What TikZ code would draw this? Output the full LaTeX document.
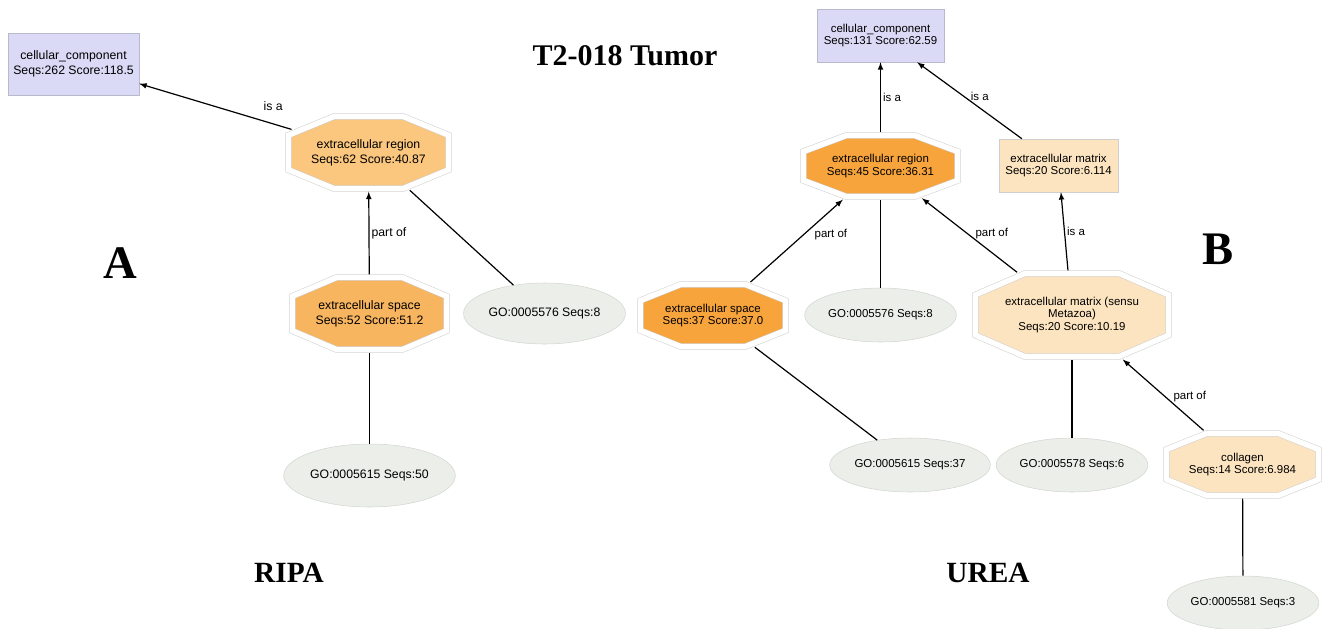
\documentclass[tikz,border=0pt]{standalone}
\usepackage{fontspec}
\setmainfont{Liberation Serif}
\setsansfont{Liberation Sans}
\usetikzlibrary{positioning, shapes.geometric, arrows}

\definecolor{ccblue}{HTML}{DADAF6}
\definecolor{ccline}{HTML}{B9B9CC}
\definecolor{orangeA}{HTML}{FBC67D}
\definecolor{orangeB}{HTML}{F8B55F}
\definecolor{orangeC}{HTML}{F8A43C}
\definecolor{peach}{HTML}{FCE4C0}
\definecolor{gofill}{HTML}{ECEFE9}
\definecolor{goline}{HTML}{D3D6D0}
\definecolor{octline}{HTML}{CFCFCF}

% stretched octagon for the GO term nodes
\makeatletter
\pgfkeys{/pgf/octagon xcut/.initial=10pt, /pgf/octagon ycut/.initial=5pt}
\pgfdeclareshape{gooctagon}{
  \inheritsavedanchors[from=rectangle]
  \inheritanchor[from=rectangle]{center}
  \inheritanchor[from=rectangle]{text}
  \inheritanchor[from=rectangle]{base}
  \inheritanchor[from=rectangle]{mid}
  \inheritanchor[from=rectangle]{north}
  \inheritanchor[from=rectangle]{south}
  \inheritanchor[from=rectangle]{east}
  \inheritanchor[from=rectangle]{west}
  \saveddimen\octxcut{\pgfmathsetlength\pgf@x{\pgfkeysvalueof{/pgf/octagon xcut}}}
  \saveddimen\octycut{\pgfmathsetlength\pgf@x{\pgfkeysvalueof{/pgf/octagon ycut}}}
  \backgroundpath{%
    \pgfmathsetlength\pgf@xc{\pgfkeysvalueof{/pgf/outer xsep}}%
    \pgfmathsetlength\pgf@yc{\pgfkeysvalueof{/pgf/outer ysep}}%
    \southwest \edef\octL{\the\dimexpr\pgf@x+\pgf@xc\relax}\edef\octB{\the\dimexpr\pgf@y+\pgf@yc\relax}%
    \northeast \edef\octR{\the\dimexpr\pgf@x-\pgf@xc\relax}\edef\octT{\the\dimexpr\pgf@y-\pgf@yc\relax}%
    \pgfpathmoveto{\pgfqpoint{\octR}{\dimexpr\octT-\octycut\relax}}%
    \pgfpathlineto{\pgfqpoint{\dimexpr\octR-\octxcut\relax}{\octT}}%
    \pgfpathlineto{\pgfqpoint{\dimexpr\octL+\octxcut\relax}{\octT}}%
    \pgfpathlineto{\pgfqpoint{\octL}{\dimexpr\octT-\octycut\relax}}%
    \pgfpathlineto{\pgfqpoint{\octL}{\dimexpr\octB+\octycut\relax}}%
    \pgfpathlineto{\pgfqpoint{\dimexpr\octL+\octxcut\relax}{\octB}}%
    \pgfpathlineto{\pgfqpoint{\dimexpr\octR-\octxcut\relax}{\octB}}%
    \pgfpathlineto{\pgfqpoint{\octR}{\dimexpr\octB+\octycut\relax}}%
    \pgfpathclose
  }
  \anchorborder{%
    \edef\octX{\the\pgf@x}\edef\octY{\the\pgf@y}%
    \southwest \edef\octL{\the\pgf@x}\edef\octB{\the\pgf@y}%
    \northeast \edef\octR{\the\pgf@x}\edef\octT{\the\pgf@y}%
    \pgfmathsetmacro\octlen{max(veclen(\octX,\octY),0.001)}%
    \pgfmathsetmacro\octux{abs(\octX)/\octlen}%
    \pgfmathsetmacro\octuy{abs(\octY)/\octlen}%
    \pgfmathsetmacro\octa{(\octR-\octL)/2}%
    \pgfmathsetmacro\octb{(\octT-\octB)/2}%
    \pgfmathsetmacro\octxc{\octxcut}%
    \pgfmathsetmacro\octyc{\octycut}%
    \pgfmathsetmacro\octc{\octa*\octyc+\octb*\octxc-\octxc*\octyc}%
    \pgfmathsetmacro\octt{min(\octa/max(\octux,0.01), \octb/max(\octuy,0.01), \octc/(\octux*\octyc+\octuy*\octxc))}%
    \pgfmathsetmacro\octrx{(\octL+\octR)/2+\octt*(\octX)/\octlen}%
    \pgfmathsetmacro\octry{(\octB+\octT)/2+\octt*(\octY)/\octlen}%
    \pgf@x=\octrx pt\relax
    \pgf@y=\octry pt\relax
  }
}
\makeatother

\begin{document}
\begin{tikzpicture}[
    x=0.75pt, y=-0.75pt,
    fontA/.style={font=\sffamily\fontsize{9.2}{11.2}\selectfont},
    fontB/.style={font=\sffamily\fontsize{8.6}{9.6}\selectfont},
    box/.style={draw=ccline, fill=ccblue, align=center, inner sep=2pt},
    mbox/.style={box, draw=octline, fill=peach},
    oct/.style={gooctagon, draw=octline, double=white, double distance=4pt, outer sep=2.4pt, align=center, inner sep=2pt},
    cut/.style 2 args={octagon xcut=#1, octagon ycut=#2},
    go/.style={ellipse, draw=goline, fill=gofill, inner sep=1pt},
    arr/.style={->, >=latex, line width=0.9pt},
    golink/.style={line width=0.9pt},
    lbl/.style={inner sep=1.5pt},
    panel/.style={font=\bfseries\fontsize{35}{40}\selectfont},
    extract/.style={font=\bfseries\fontsize{22}{26}\selectfont}
]
\useasboundingbox (0,0) rectangle (1323,628);

% Titles
\node[font=\bfseries\fontsize{22.5}{27}\selectfont] (title) at (625,56) {T2-018 Tumor};
\node[panel] (panelA) at (120,263) {A};
\node[panel] (panelB) at (1218,249) {B};
\node[extract] (ripa) at (289,573) {RIPA};
\node[extract] (urea) at (988,573) {UREA};

% RIPA graph
\node[box, fontA, minimum width=98.25pt, minimum height=46.5pt] (ccA) at (73.5,64) {cellular\_component\\Seqs:262 Score:118.5};
\node[oct, fontA, fill=orangeA, minimum width=120pt, minimum height=54pt, cut={34pt}{14pt}] (erA) at (368.5,152.5) {extracellular region\\Seqs:62 Score:40.87};
\node[oct, fontA, fill=orangeB, minimum width=115.5pt, minimum height=54pt, cut={33pt}{14pt}] (esA) at (369.5,313.5) {extracellular space\\Seqs:52 Score:51.2};
\node[go, fontA, minimum width=101pt, minimum height=45.75pt] (goA5576) at (544.5,313.5) {GO:0005576 Seqs:8};
\node[go, fontA, minimum width=105.75pt, minimum height=47.25pt] (goA5615) at (369.5,475.5) {GO:0005615 Seqs:50};

\draw[arr] (erA) -- node[lbl, fontA, pos=0.12, above=8pt] {is a} (ccA);
\draw[arr] (esA) -- node[lbl, fontA, right] {part of} (erA);
\draw[golink] (goA5576) -- (erA);
\draw[golink] (goA5615) -- (esA);

% UREA graph
\node[box, fontB, minimum width=95.25pt, minimum height=39.75pt] (ccB) at (880.5,35.5) {cellular\_component\\Seqs:131 Score:62.59};
\node[oct, fontB, fill=orangeC, minimum width=115.5pt, minimum height=45.75pt, cut={32pt}{12pt}] (erB) at (880.5,166) {extracellular region\\Seqs:45 Score:36.31};
\node[mbox, fontB, minimum width=89.25pt, minimum height=39.75pt] (emB) at (1058.5,165.5) {extracellular matrix\\Seqs:20 Score:6.114};
\node[oct, fontB, fill=orangeC, minimum width=108.75pt, minimum height=46.5pt, cut={30pt}{12pt}] (esB) at (713,315.5) {extracellular space\\Seqs:37 Score:37.0};
\node[go, fontB, minimum width=98.25pt, minimum height=40.5pt] (goB5576) at (880.5,315) {GO:0005576 Seqs:8};
\node[oct, fontB, fill=peach, minimum width=144.75pt, minimum height=62.25pt, cut={37pt}{16pt}] (emsB) at (1072,315) {extracellular matrix (sensu\\Metazoa)\\Seqs:20 Score:10.19};
\node[go, fontB, minimum width=100.5pt, minimum height=40.5pt] (goB5615) at (910,465) {GO:0005615 Seqs:37};
\node[go, fontB, minimum width=99pt, minimum height=40.5pt] (goB5578) at (1072,465) {GO:0005578 Seqs:6};
\node[oct, fontB, fill=peach, minimum width=114pt, minimum height=46.5pt, cut={30pt}{12pt}] (colB) at (1242.5,464.5) {collagen\\Seqs:14 Score:6.984};
\node[go, fontB, minimum width=97.5pt, minimum height=40.5pt] (goB5581) at (1243,603) {GO:0005581 Seqs:3};

\draw[arr] (erB) -- node[lbl, fontB, right] {is a} (ccB);
\draw[arr] (emB) -- node[lbl, fontB, pos=0.55, right=3pt] {is a} (ccB);
\draw[arr] (esB) -- node[lbl, fontB, pos=0.58, right=6pt] {part of} (erB);
\draw[golink] (goB5576) -- (erB);
\draw[arr] (emsB) -- node[lbl, fontB, pos=0.52, right=4pt] {part of} (erB);
\draw[arr] (emsB) -- node[lbl, fontB, right] {is a} (emB);
\draw[golink] (goB5615) -- (esB);
\draw[golink] (goB5578) -- (emsB);
\draw[arr] (colB) -- node[lbl, fontB, pos=0.47, right=4pt] {part of} (emsB);
\draw[golink] (goB5581) -- (colB);

\end{tikzpicture}
\end{document}
